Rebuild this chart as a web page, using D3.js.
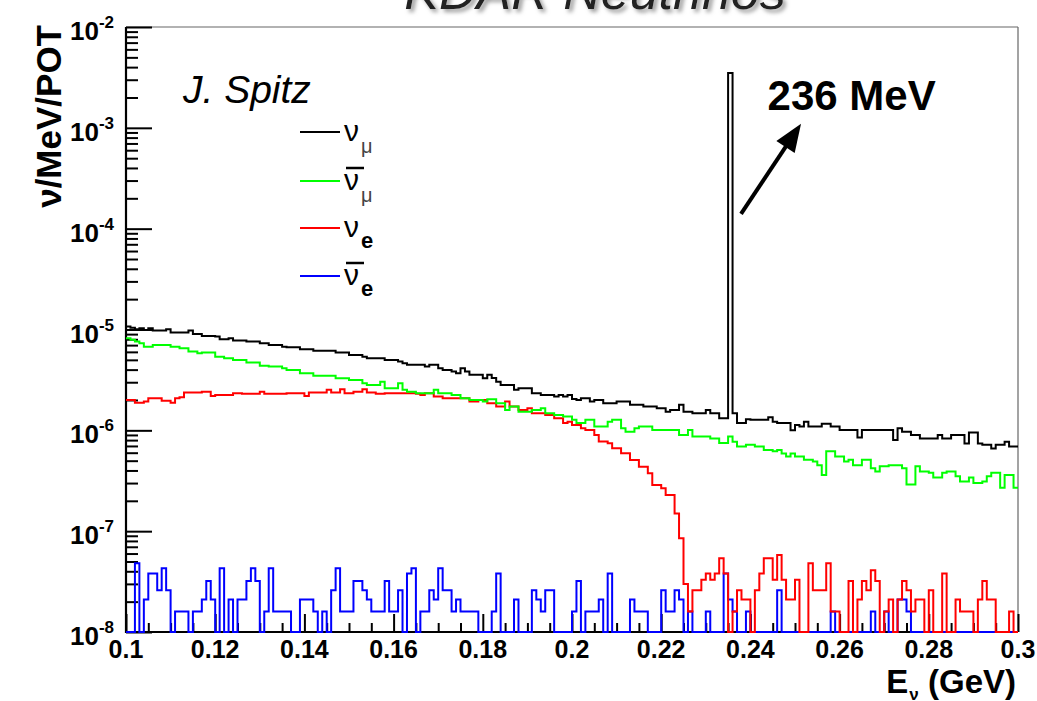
<!DOCTYPE html>
<html><head><meta charset="utf-8">
<script src="https://cdn.jsdelivr.net/npm/d3@7"></script>
<style>html,body{margin:0;padding:0;background:#fff;}svg{display:block;font-family:"Liberation Sans",Arial,Helvetica,sans-serif;}</style>
</head><body>
<svg id="chart" width="1037" height="701"></svg>
<script>
// ---- data (bin contents in units of 1e-8 nu/MeV/POT, 1 MeV bins from 0.100 GeV) ----
const UNIT = 1e-8;
const binLow = 0.1, binWidth = 0.001;
const numu = [
1069,1040,1006,1028,991,1028,977,977,977,1006,
933,933,933,933,977,904,904,864,864,864,
851,800,800,819,776,776,776,759,759,759,
731,731,703,703,703,676,667,667,667,638,
638,638,617,617,617,617,617,590,590,590,
560,560,560,538,519,519,519,519,499,499,
499,481,463,446,446,446,446,429,446,446,
413,397,397,383,368,413,383,355,355,355,
329,355,330,304,282,282,282,252,262,262,
262,233,233,224,224,224,216,224,216,224,
205,200,208,208,193,200,200,186,186,186,
193,193,193,179,179,179,172,172,172,166,
166,153,159,159,179,153,153,148,148,148,
159,148,148,132,132,350000,148,118,118,129,
127,127,127,127,135,122,118,118,118,100,
113,109,122,109,109,109,116,116,109,109,
101,101,101,101,85,101,101,101,101,101,
101,101,80,105,97,97,90,90,83,83,
83,83,90,83,83,90,90,90,74,95,
95,74,72,72,66,72,72,77,69,69];
const numubar = [
819,790,759,731,676,676,703,703,703,703,
676,676,651,651,604,604,581,590,590,590,
538,538,519,519,499,499,499,470,470,470,
436,436,429,429,429,413,397,397,397,368,
368,368,347,347,347,347,347,329,329,329,
316,316,316,293,282,282,282,304,262,262,
262,293,252,242,242,233,233,233,233,252,
233,233,233,224,224,208,208,200,200,200,
193,203,203,186,186,159,172,172,153,153,
153,159,159,166,148,148,142,142,137,137,
127,118,118,127,127,109,109,109,122,127,
127,105,97,97,105,109,109,109,101,101,
101,101,101,101,90,90,101,87,87,87,
87,83,83,75,75,87,77,69,69,72,
72,69,69,64,64,62,64,59,55,59,
55,55,51,51,49,45,36,62,62,55,
55,49,51,45,45,51,51,42,39,44,
44,45,45,45,42,29,29,44,39,39,
38,34,34,38,39,39,35,31,31,34,
30,30,31,35,38,38,27,36,36,27];
const nue = [
200,200,188,188,193,208,208,208,197,197,
188,208,213,237,237,237,237,242,242,219,
224,224,224,224,233,233,230,230,230,230,
242,230,230,230,230,230,233,233,233,233,
219,237,237,237,237,252,237,237,255,233,
233,242,242,255,237,237,230,230,233,233,
233,233,233,233,233,230,224,233,233,216,
216,208,208,208,208,208,208,193,193,200,
200,186,186,172,172,193,172,172,159,159,
166,148,148,148,142,142,132,132,118,122,
113,113,105,101,101,90,77.3,77.3,74.5,66.4,
66.4,59.3,59.3,50.8,50.8,43.6,43.6,37.5,28.7,28.7,
26.6,22.9,22.9,15,8.5,3.0,1.6,2.6,2.6,3.3,
3.8,3.3,3.8,5.4,3.8,0,1.6,2.6,2.1,2.1,
0,2.6,3.8,5.4,5.4,3.3,5.8,3.3,2.1,2.1,
3.3,0,0,4.8,2.6,2.6,2.6,4.8,1.6,1.6,
0,0,3.2,0,2.1,3.2,2.6,4.1,3.2,0,
1.6,2.1,0,2.1,3.2,2.6,1.6,2.1,2.1,0,
2.6,0,0,3.8,0,0,2.1,1.6,1.6,1.6,
0,2.1,3.2,2.1,2.1,0,0,0,1.6,0];
const nuebar = [
0,0,4.8,0,2.1,3.8,3.8,2.6,4.3,2.6,
0,1.6,1.6,1.6,0,1.6,1.6,2.1,3.2,2.1,
0,4.3,0,2.1,0,2.1,2.1,3.2,4.3,3.2,
0,1.6,4.3,1.6,1.6,1.6,1.6,0,0,2.1,
2.1,2.1,1.6,0,1.6,0,2.6,4.3,1.6,1.6,
1.6,3.2,3.2,2.6,2.1,1.6,1.6,1.6,3.2,1.6,
1.6,2.6,0,3.8,4.3,0,1.6,1.6,2.6,2.1,
4.3,2.6,2.6,1.6,2.1,1.6,1.6,1.6,1.6,0,
0,0,1.6,3.8,0,0,0,2.1,0,0,
0,2.6,2.1,1.6,2.6,2.6,0,0,0,0,
1.6,3.2,0,1.6,1.6,1.6,2.1,0,3.8,0,
0,0,0,2.1,1.6,1.6,1.6,0,0,0,
2.6,1.6,1.6,2.6,2.1,0,1.6,0,0,0,
1.6,0,0,0,3.8,2.1,1.6,0,0,1.6,
0,0,0,0,0,0,2.6,0,0,0,
0,0,0,0,0,0,0,0,1.6,0,
0,0,0,0,0,0,0,1.6,0,0,
1.6,0,0,2.1,2.1,1.6,0,0,0,0,
0,0,0,0,0,0,0,0,0,0,
0,0,0,0,0,0,0,0,0,0];
const xTickLabels = ["0.1","0.12","0.14","0.16","0.18","0.2","0.22","0.24","0.26","0.28","0.3"];
const yTickExponents = [-2,-3,-4,-5,-6,-7,-8];
const legendBase = ["ν","ν","ν","ν"];
const legendSub = ["μ","μ","e","e"];
const legendAnti = [false,true,false,true];
const peakLabel = "236 MeV";
const peakE = 0.236;

// ---- styles ----
const colors = {numu:"#000000", numubar:"#00ff00", nue:"#ff0000", nuebar:"#0000ff"};
const series = [
  {key:"numu", values:numu},
  {key:"numubar", values:numubar},
  {key:"nue", values:nue},
  {key:"nuebar", values:nuebar}
];

const svg = d3.select("#chart");
const m = {left:126, right:1018, top:27, bottom:632};
const x = d3.scaleLinear().domain([0.1,0.3]).range([m.left,m.right]);
const yMin = 1e-8, yMax = 1e-2;
const y = d3.scaleLog().domain([yMin,yMax]).range([m.bottom,m.top]);

const defs = svg.append("defs");
const f = defs.append("filter").attr("id","shadow").attr("x","-10%").attr("y","-50%").attr("width","120%").attr("height","200%");
f.append("feDropShadow").attr("dx",3).attr("dy",3).attr("stdDeviation",2).attr("flood-color","#999");

// Title (mostly cropped at the top)
svg.append("text").attr("x",595).attr("y",9).attr("text-anchor","middle")
  .attr("font-size",52).attr("font-style","italic").attr("fill","#222")
  .attr("filter","url(#shadow)").text("KDAR Neutrinos");

// frame top/right
svg.append("line").attr("x1",m.left).attr("x2",m.right).attr("y1",m.top).attr("y2",m.top).attr("stroke","#666").attr("stroke-width",1.2);
svg.append("line").attr("x1",m.right).attr("x2",m.right).attr("y1",m.top).attr("y2",m.bottom).attr("stroke","#666").attr("stroke-width",1.2);

// y axis ticks
const yMaj = yTickExponents.map(e=>Math.pow(10,e));
const yMin_ = [];
for (let d=-8; d<-2; d++) for (let k=2;k<=9;k++) yMin_.push(k*Math.pow(10,d));
function styleAxis(g){ g.select(".domain").remove(); g.selectAll(".tick line").attr("stroke","#000").attr("stroke-width",2); }
svg.append("g").attr("transform",`translate(${m.left},0)`).call(d3.axisRight(y).tickValues(yMaj).tickSize(26).tickFormat("")).call(styleAxis);
svg.append("g").attr("transform",`translate(${m.left},0)`).call(d3.axisRight(y).tickValues(yMin_).tickSize(12).tickFormat("")).call(styleAxis);

// x axis ticks
const xMaj = xTickLabels.map(Number);
const xMinor = d3.range(0,41).map(i=>0.1+i*0.005).filter(v=>!xMaj.some(t=>Math.abs(t-v)<1e-9));
svg.append("g").attr("transform",`translate(0,${m.bottom})`).call(d3.axisTop(x).tickValues(xMaj).tickSize(18).tickFormat("")).call(styleAxis);
svg.append("g").attr("transform",`translate(0,${m.bottom})`).call(d3.axisTop(x).tickValues(xMinor).tickSize(9).tickFormat("")).call(styleAxis);

// axis lines
svg.append("line").attr("x1",m.left).attr("x2",m.left).attr("y1",m.top).attr("y2",m.bottom+1).attr("stroke","#000").attr("stroke-width",2.2);
svg.append("line").attr("x1",m.left-1).attr("x2",m.right).attr("y1",m.bottom).attr("y2",m.bottom).attr("stroke","#000").attr("stroke-width",2.2);

// x labels
svg.append("g").selectAll("text").data(xTickLabels).join("text")
  .attr("x",d=>x(+d)).attr("y",658).attr("text-anchor","middle")
  .attr("font-size",25).attr("font-weight","bold").text(d=>d);

// y labels
const yl = svg.append("g").selectAll("text").data(yTickExponents).join("text")
  .attr("x",114).attr("y",d=>y(Math.pow(10,d))+13).attr("text-anchor","end").attr("font-weight","bold");
yl.append("tspan").attr("font-size",26).text("10");
yl.append("tspan").attr("font-size",17).attr("dy",-12).text(d=>String(d));

// axis titles
svg.append("text").attr("transform",`translate(61,${m.top-2}) rotate(-90)`).attr("text-anchor","end")
  .attr("font-size",35).attr("font-weight","bold").text("ν/MeV/POT");
const xt = svg.append("text").attr("x",1016).attr("y",693).attr("text-anchor","end").attr("font-weight","bold").attr("font-size",33);
xt.append("tspan").text("E");
xt.append("tspan").attr("font-size",17).attr("dx",1).attr("dy",7).text("ν");
xt.append("tspan").attr("dy",-7).text(" (GeV)");

// histograms
function pts(vals){
  const p = vals.map((v,i)=>[binLow+i*binWidth, v*UNIT]);
  p.push([binLow+vals.length*binWidth, vals[vals.length-1]*UNIT]);
  return p;
}
const line = d3.line().x(d=>x(d[0])).y(d=>y(Math.min(yMax,Math.max(yMin,d[1])))).curve(d3.curveStepAfter);
const drawOrder = ["nuebar","nue","numubar","numu"];
svg.append("g").selectAll("path").data(drawOrder.map(k=>series.find(s=>s.key===k))).join("path")
  .attr("d",s=>line(pts(s.values))).attr("fill","none").attr("stroke",s=>colors[s.key])
  .attr("stroke-width",2).attr("stroke-linejoin","miter");

// author
svg.append("text").attr("x",183).attr("y",103).attr("font-size",39).attr("font-style","italic").text("J. Spitz");

// legend
const legY = [132,181,228,276];
series.forEach((s,i)=>{
  const g = svg.append("g").attr("transform",`translate(0,${legY[i]})`);
  g.append("line").attr("x1",300).attr("x2",340).attr("y1",0).attr("y2",0).attr("stroke",colors[s.key]).attr("stroke-width",2);
  const t = g.append("text").attr("x",344).attr("y",9);
  t.append("tspan").attr("font-size",30).text(legendBase[i]);
  t.append("tspan").attr("font-size",legendSub[i]==="e"?22:20).attr("font-weight",legendSub[i]==="e"?"bold":"normal")
    .attr("fill",legendSub[i]==="e"?"#000":"#444").attr("dx",2).attr("dy",legendSub[i]==="e"?11:12).text(legendSub[i]);
  if (legendAnti[i]) g.append("line").attr("x1",346).attr("x2",364).attr("y1",-13).attr("y2",-13).attr("stroke","#000").attr("stroke-width",2.5);
});

// peak annotation
const tip = [x(0.25135), y(1.1e-3)], tail = [x(0.2379), y(1.4e-4)];
const dx = tip[0]-tail[0], dy = tip[1]-tail[1], L = Math.hypot(dx,dy);
const ux = dx/L, uy = dy/L, hl = 28, hw = 11;
const bx = tip[0]-hl*ux, by = tip[1]-hl*uy;
svg.append("line").attr("x1",tail[0]).attr("y1",tail[1]).attr("x2",bx+ux*2).attr("y2",by+uy*2).attr("stroke","#000").attr("stroke-width",4);
svg.append("path").attr("d",`M${tip[0]},${tip[1]}L${bx-hw*uy},${by+hw*ux}L${bx+hw*uy},${by-hw*ux}Z`).attr("fill","#000");
svg.append("text").attr("x",x(peakE)+35).attr("y",110).attr("font-size",42).attr("font-weight","bold").text(peakLabel);
</script>
</body></html>
